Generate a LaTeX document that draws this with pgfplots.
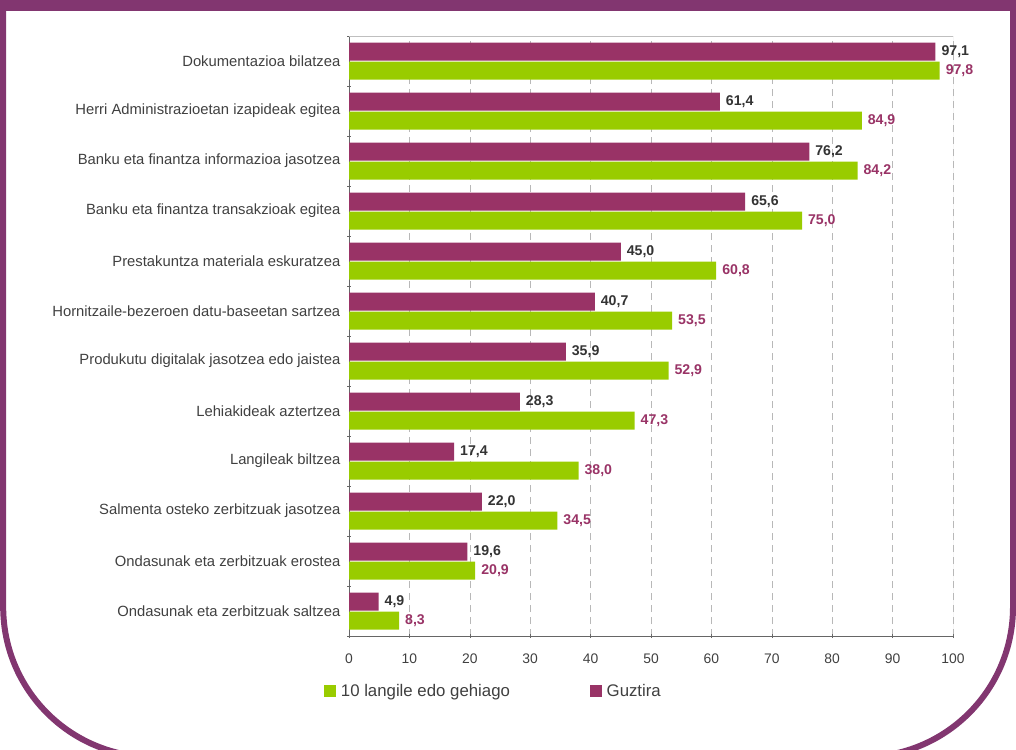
\documentclass[border=0pt]{standalone}
\usepackage{pgfplots}
\pgfplotsset{compat=1.18}
\usepackage{fontspec}
\setmainfont{Liberation Sans}
\definecolor{purp}{RGB}{153,51,102}
\definecolor{grn}{RGB}{153,204,0}
\definecolor{frame}{RGB}{130,54,112}
\definecolor{txt}{RGB}{64,64,64}
\definecolor{lbl}{RGB}{51,51,51}
\begin{document}
\begin{tikzpicture}
\path[use as bounding box] (0,0) rectangle (762pt,-561.75pt);
\begin{scope}
\clip (0,0) rectangle (762pt,-561.75pt);
\fill[frame] (0,0) rectangle (762pt,-8.6pt);
\draw[frame, line width=4.5pt] (2.4pt,0) -- (2.4pt,-455.25pt)
  arc[start angle=180,end angle=270,radius=112.5pt] -- (647.25pt,-567.75pt)
  arc[start angle=270,end angle=360,radius=112.5pt] -- (759.75pt,0);
\end{scope}
\begin{axis}[
  at={(261.75pt,-477pt)}, anchor=south west,
  scale only axis, width=453pt, height=450pt,
  xbar, bar width=0.36,
  xmin=0, xmax=100, ymin=-0.5, ymax=11.5,
  xtick={0,10,...,100},
  ytick={-0.5,0.5,...,11.5}, yticklabels={},
  extra y ticks={0,1,...,11},
  extra y tick labels={Ondasunak eta zerbitzuak saltzea,Ondasunak eta zerbitzuak erostea,Salmenta osteko zerbitzuak jasotzea,Langileak biltzea,Lehiakideak aztertzea,Produkutu digitalak jasotzea edo jaistea,Hornitzaile-bezeroen datu-baseetan sartzea,Prestakuntza materiala eskuratzea,Banku eta finantza transakzioak egitea,Banku eta finantza informazioa jasotzea,Herri Administrazioetan izapideak egitea,Dokumentazioa bilatzea},
  extra y tick style={major tick length=0pt, yticklabel style={xshift=-3pt}},
  tick align=outside, major tick length=3pt,
  axis lines=left, axis line style={-, draw=black!60},
  tick style={draw=black!60},
  xmajorgrids, grid style={draw=black!28, dash pattern=on 5pt off 4pt},
  ticklabel style={font=\fontsize{10.4}{12}\selectfont, text=txt},
  xticklabel style={yshift=-8pt},
  yticklabel style={font=\fontsize{11.1}{13}\selectfont},
  /pgf/number format/assume math mode=true,
  legend columns=2,
  legend style={draw=none, at={(-0.0414,-0.0917)}, anchor=west, inner sep=0pt,
    font=\fontsize{12.6}{14}\selectfont, text=txt,
    /tikz/every odd column/.append style={column sep=1.5pt},
    /tikz/every even column/.append style={column sep=58pt}},
  legend image code/.code={\fill[#1] (0pt,-4.5pt) rectangle (9pt,4.5pt);},
  nodes near coords={\pgfmathprintnumber[fixed,fixed zerofill,precision=1,use comma,assume math mode=true]{\pgfplotspointmeta}},
  nodes near coords style={font=\bfseries\fontsize{10.6}{12}\selectfont, anchor=west, xshift=1pt},
]
\addplot[fill=grn, draw=none, bar shift=-0.19, nodes near coords style={text=purp}] coordinates {
(8.3,0) (20.9,1) (34.5,2) (38.0,3) (47.3,4) (52.9,5) (53.5,6) (60.8,7) (75.0,8) (84.2,9) (84.9,10) (97.8,11)};
\addplot[fill=purp, draw=none, bar shift=0.19, nodes near coords style={text=lbl}] coordinates {
(4.9,0) (19.6,1) (22.0,2) (17.4,3) (28.3,4) (35.9,5) (40.7,6) (45.0,7) (65.6,8) (76.2,9) (61.4,10) (97.1,11)};
\legend{10 langile edo gehiago, Guztira}
\draw[black!25] (axis cs:0,11.5) -- (axis cs:100,11.5) -- (axis cs:100,-0.5);
\end{axis}
\end{tikzpicture}
\end{document}
